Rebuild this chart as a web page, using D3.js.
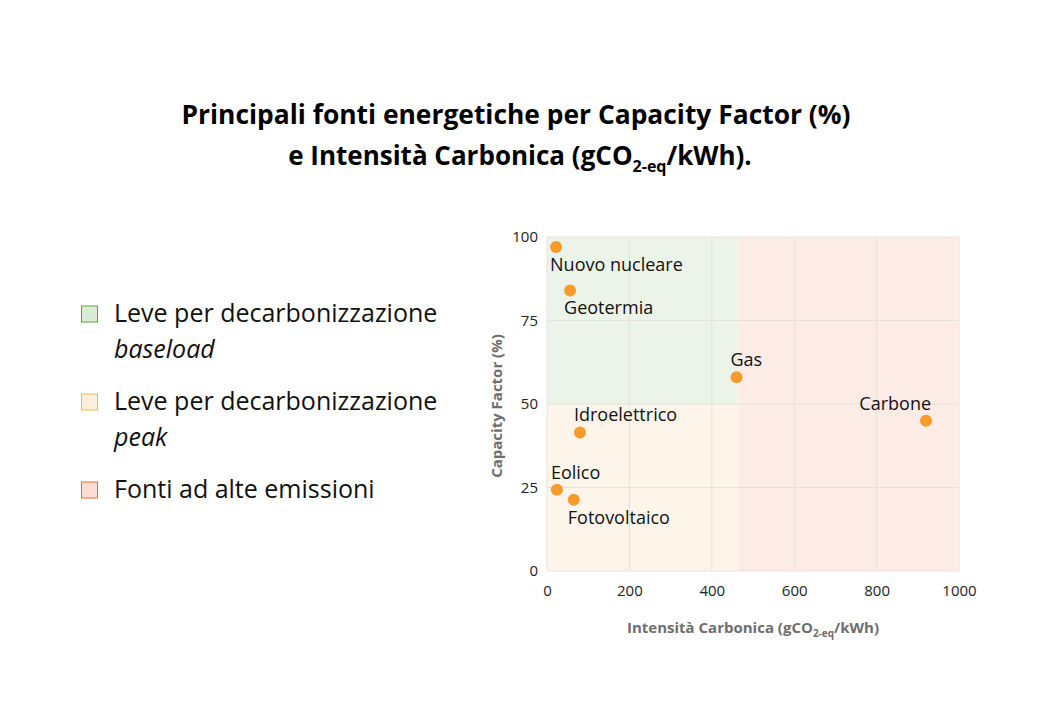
<!DOCTYPE html>
<html><head><meta charset="utf-8">
<script src="https://cdn.jsdelivr.net/npm/d3@7"></script>
<style>
body{margin:0;background:#fff;}
svg text{font-family:"Open Sans","Noto Sans",sans-serif;}
</style></head>
<body><svg id="c" width="1040" height="720"></svg>
<script>
// Data
const sources = ["Nuovo nucleare","Geotermia","Gas","Carbone","Idroelettrico","Eolico","Fotovoltaico"];
const carbonIntensity = [22, 56, 460, 920, 80, 24, 65];
const capacityFactor = [97, 84, 58, 45, 41.5, 24.3, 21.3];
const xTicks = [0,200,400,600,800,1000];
const yTicks = [0,25,50,75,100];
const zoneNames = ["Leve per decarbonizzazione|baseload","Leve per decarbonizzazione|peak","Fonti ad alte emissioni"];
// zone extents in data units
const zoneX0 = [0, 0, 465];
const zoneX1 = [465, 465, 1000];
const zoneY0 = [50, 0, 0];
const zoneY1 = [100, 50, 100];

// label placement style
const placement = {"Nuovo nucleare":"below","Geotermia":"below","Gas":"above","Carbone":"aboveEnd","Idroelettrico":"above","Eolico":"above","Fotovoltaico":"below"};
const zoneFill = ["#ecf3e9","#fdf5ea","#fdece6"];
const zoneStroke = ["#5aa33c","#f4b740","#f2692b"];
const legendFill = ["#dcebd6","#fcf0dc","#fddcd2"];

const svg = d3.select("#c");
const x = d3.scaleLinear().domain([0,1000]).range([547,959]);
const y = d3.scaleLinear().domain([0,100]).range([571,237]);

// Title
const t = svg.append("text").attr("x",516).attr("y",124).attr("text-anchor","middle")
  .attr("font-size",26).attr("font-weight","bold").attr("fill","#000")
  .attr("textLength",669).attr("lengthAdjust","spacingAndGlyphs");
t.text("Principali fonti energetiche per Capacity Factor (%)");
const t2 = svg.append("text").attr("x",520).attr("y",165).attr("text-anchor","middle")
  .attr("font-size",26).attr("font-weight","bold").attr("fill","#000");
t2.append("tspan").text("e Intensità Carbonica (gCO");
t2.append("tspan").attr("font-size",16).attr("dy",7).text("2-eq");
t2.append("tspan").attr("dy",-7).text("/kWh).");

// zones
zoneNames.forEach((n,i)=>{
  svg.append("rect").attr("x",x(zoneX0[i])).attr("y",y(zoneY1[i]))
    .attr("width",x(zoneX1[i])-x(zoneX0[i])).attr("height",y(zoneY0[i])-y(zoneY1[i]))
    .attr("fill",zoneFill[i]);
});

// grid
const grid = svg.append("g");
xTicks.forEach(v=>{
  grid.append("line").attr("x1",x(v)).attr("x2",x(v)).attr("y1",y(0)).attr("y2",y(100))
    .attr("stroke","#e8e2dc").attr("stroke-width",1);
});
yTicks.forEach(v=>{
  grid.append("line").attr("x1",x(0)).attr("x2",x(1000)).attr("y1",y(v)).attr("y2",y(v))
    .attr("stroke","#e8e2dc").attr("stroke-width",1);
});

// axes
const xa = svg.append("g").attr("transform",`translate(0,${y(0)})`)
  .call(d3.axisBottom(x).tickValues(xTicks).tickSize(0).tickPadding(14).tickFormat(d3.format("d")));
xa.select(".domain").remove();
xa.selectAll("text").attr("font-size",15).attr("fill","#222").attr("font-family","Open Sans, Noto Sans, sans-serif");
const ya = svg.append("g").attr("transform",`translate(${x(0)},0)`)
  .call(d3.axisLeft(y).tickValues(yTicks).tickSize(0).tickPadding(9));
ya.select(".domain").remove();
ya.selectAll("text").attr("font-size",15).attr("fill","#222").attr("font-family","Open Sans, Noto Sans, sans-serif");

// axis titles
const xt = svg.append("text").attr("x",753).attr("y",633).attr("text-anchor","middle")
  .attr("font-size",15).attr("font-weight","bold").attr("fill","#6e6e6e");
xt.append("tspan").text("Intensità Carbonica (gCO");
xt.append("tspan").attr("font-size",10).attr("dy",4).text("2-eq");
xt.append("tspan").attr("dy",-4).text("/kWh)");
svg.append("text").attr("transform",`translate(502,${(y(0)+y(100))/2 + 2}) rotate(-90)`)
  .attr("text-anchor","middle").attr("font-size",15).attr("font-weight","bold").attr("fill","#6e6e6e")
  .text("Capacity Factor (%)");

// points
const pts = sources.map((s,i)=>({s, cx:carbonIntensity[i], cy:capacityFactor[i]}));
svg.append("g").selectAll("circle").data(pts).join("circle")
  .attr("cx",d=>x(d.cx)).attr("cy",d=>y(d.cy)).attr("r",6).attr("fill","#f89a2c");
svg.append("g").selectAll("text").data(pts).join("text")
  .attr("x",d=>{const p=placement[d.s]; return p==="aboveEnd"? x(d.cx)+5 : x(d.cx)-6;})
  .attr("y",d=>{const p=placement[d.s]; return p==="below"? y(d.cy)+24 : y(d.cy)-11;})
  .attr("text-anchor",d=>placement[d.s]==="aboveEnd"?"end":"start")
  .attr("font-size",18).attr("fill","#111").text(d=>d.s);

// legend
const lg = svg.append("g");
const legendY = [314, 402, 490];
zoneNames.forEach((n,i)=>{
  lg.append("rect").attr("x",81.5).attr("y",legendY[i]-8).attr("width",16).attr("height",16)
    .attr("fill",legendFill[i]).attr("stroke",zoneStroke[i]).attr("stroke-width",1);
  const parts = n.split("|");
  lg.append("text").attr("x",114).attr("y",legendY[i]+8).attr("font-size",25).attr("fill","#111").text(parts[0]);
  if(parts[1]) lg.append("text").attr("x",114).attr("y",legendY[i]+44).attr("font-size",25)
    .attr("font-style","italic").attr("fill","#111").text(parts[1]);
});
</script></body></html>
